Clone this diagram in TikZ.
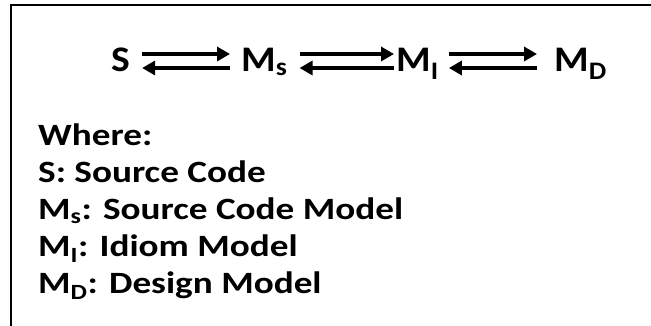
\documentclass[tikz,border=0pt]{standalone}
\usepackage{fontspec}
\setmainfont{Carlito}[FakeStretch=1.1]
\newfontfamily\keyfont{Carlito}[FakeStretch=1.2]
\usetikzlibrary{arrows.meta}
\begin{document}
\begin{tikzpicture}[
  x=1pt, y=-1pt,
  sym/.style={font=\fontsize{36}{40}\selectfont\bfseries, inner sep=0pt, anchor=base west},
  key/.style={font=\keyfont\fontsize{31}{37}\selectfont\bfseries, inner sep=0pt, anchor=base west},
  fwd/.style={-{Triangle[length=13pt,width=14pt]}, line width=4pt},
  bwd/.style={{Triangle[length=13pt,width=14pt]}-, line width=4pt}
]
  \useasboundingbox (0,0) rectangle (651,326);
  % frame, open to the right and at the bottom
  \draw[line width=2.5pt] (651,5) -- (11,5) -- (11,326);
  % chain of models
  \node[sym] (S) at (111,72) {S};
  \node[sym] (Ms) at (241,72) {M\textsubscript{s}};
  \node[sym] (MI) at (396,72) {M\textsubscript{I}};
  \node[sym] (MD) at (554,72) {M\textsubscript{D}};
  \coordinate (up) at (0,54);
  \coordinate (dn) at (0,68);
  \foreach \a/\b/\ga/\gb in {S/Ms/12/11, Ms/MI/12/2, MI/MD/10/17}{
    \draw[fwd, shorten <=\ga pt, shorten >=\gb pt] (\a.east |- up) -- (\b.west |- up);
    \draw[bwd, shorten <=\ga pt, shorten >=\gb pt] (\a.east |- dn) -- (\b.west |- dn);
  }
  % legend
  \foreach \txt [count=\i from 0] in {{Where:}, {S: Source Code},
      {M\textsubscript{s}: Source Code Model}, {M\textsubscript{I}: Idiom Model},
      {M\textsubscript{D}: Design Model}}
    \node[key] (key\i) at (38,145.5+37*\i) {\txt};
\end{tikzpicture}
\end{document}
